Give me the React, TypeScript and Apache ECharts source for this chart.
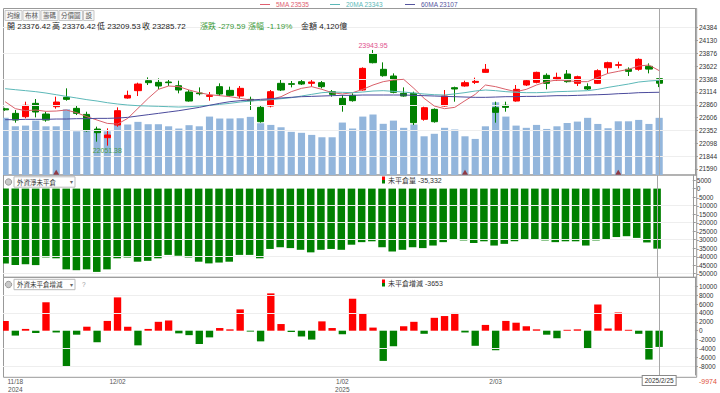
import React, { useEffect, useRef } from "react";
import * as echarts from "echarts";

const FONT = "'Liberation Sans', 'Noto Sans CJK TC', sans-serif";

const dates = [
  "2024/11/15","2024/11/18","2024/11/19","2024/11/20","2024/11/21","2024/11/22","2024/11/25","2024/11/26","2024/11/27","2024/11/28","2024/11/29",
  "2024/12/02","2024/12/03","2024/12/04","2024/12/05","2024/12/06","2024/12/09","2024/12/10","2024/12/11","2024/12/12","2024/12/13","2024/12/16","2024/12/17","2024/12/18","2024/12/19","2024/12/20","2024/12/23","2024/12/24","2024/12/25","2024/12/26","2024/12/27","2024/12/30","2024/12/31",
  "2025/01/02","2025/01/03","2025/01/06","2025/01/07","2025/01/08","2025/01/09","2025/01/10","2025/01/13","2025/01/14","2025/01/15","2025/01/16","2025/01/17","2025/01/20","2025/01/21","2025/01/22",
  "2025/02/03","2025/02/04","2025/02/05","2025/02/06","2025/02/07","2025/02/10","2025/02/11","2025/02/12","2025/02/13","2025/02/14","2025/02/17","2025/02/18","2025/02/19","2025/02/20","2025/02/21","2025/02/24","2025/02/25",
];
const padCategories = ["pad1", "pad2", "pad3"];

const opens = [22780,22690,22624,22888,22677,22822,23007,22789,22670,22380,22209,22459,22993,23139,23336,23303,23310,23237,23112,23092,23026,23218,23145,23033,22967,22809,22835,23284,23277,23317,23284,23297,23119,22987,23046,23152,23864,23561,23429,23086,23086,22572,22769,22835,23198,23231,23303,23501,22802,22849,22934,23251,23303,23442,23350,23468,23284,23218,23284,23593,23640,23561,23561,23620,23376.42];
const closes = [22760,22558,22849,22717,22558,22914,22967,22690,22347,22308,22262,22743,23046,23270,23297,23231,23297,23152,22934,23079,23046,23073,23046,23185,22941,22525,23119,23152,23264,23270,23310,23218,23066,22855,22941,23580,23692,23435,23106,23033,22506,22802,22525,23033,23172,23297,23323,23561,22710,22809,23165,23336,23501,23284,23402,23317,23415,23172,23534,23692,23653,23521,23758,23565.31,23285.72];
const lows = [22740,22506,22591,22611,22525,22783,22941,22657,22328,22130,22051.38,22426,22980,23033,23251,23165,23231,23086,22921,23046,22941,23033,23020,22987,22756,22506,22809,23132,23204,23251,23218,23185,23020,22723,22921,23139,23679,23415,23086,23020,22459,22545,22506,22822,22921,23218,23270,23495,22506,22723,22921,23231,23284,23165,23336,23297,23231,23152,23270,23481,23580,23429,23534,23481,23209.53];
const highs = [22800,22756,22921,22974,22723,23020,23185,22835,22723,22427,22394,22809,23139,23297,23402,23382,23350,23336,23152,23204,23112,23284,23218,23231,23020,22855,23152,23350,23330,23350,23350,23330,23152,23053,23086,23600,23943.95,23699,23481,23204,23119,22822,22789,23152,23218,23336,23396,23666,22921,22921,23251,23363,23514,23481,23495,23547,23435,23284,23561,23712,23712,23600,23778,23679,23376.42];

const ma5 = [22921,22783,22743,22756,22730,22736,22756,22703,22624,22558,22492,22479,22591,22789,22987,23165,23231,23218,23152,23099,23059,23040,23020,22987,22954,22941,22967,23020,23119,23185,23218,23165,23099,23073,23099,23165,23251,23317,23350,23363,23185,22987,22835,22783,22809,22941,23066,23251,23218,23165,23119,23165,23251,23317,23350,23336,23317,23317,23402,23481,23521,23561,23626,23646,23535];
const ma20 = [23178,23158,23139,23119,23092,23059,23026,22994,22961,22934,22901,22875,22855,22842,22835,22829,22822,22815,22822,22835,22849,22868,22888,22914,22934,22947,22961,22980,23000,23033,23066,23099,23112,23106,23099,23112,23132,23139,23125,23112,23092,23073,23059,23053,23075,23100,23132,23152,23139,23119,23106,23099,23099,23106,23119,23125,23132,23139,23165,23204,23237,23270,23310,23330,23343];
const ma60 = [22565,22565,22572,22572,22572,22578,22578,22585,22585,22591,22591,22598,22611,22638,22664,22690,22717,22743,22776,22809,22849,22888,22921,22941,22954,22967,22980,22994,23007,23020,23026,23033,23040,23046,23046,23053,23053,23053,23053,23053,23046,23040,23033,23026,23020,23013,23007,23007,23013,23020,23020,23026,23026,23033,23040,23040,23046,23053,23059,23066,23079,23086,23099,23103,23107];

const volumes = [4120,3510,3560,3920,3510,3510,4740,3150,4280,3150,3150,3970,3640,3830,3660,3660,3510,3350,3590,3510,4210,4070,4070,4090,4190,3730,3610,3440,3110,3040,2890,2720,2720,3780,3350,4210,4360,3690,3920,3400,3640,2790,2970,3400,3280,2790,2600,3510,5240,4210,3560,3400,3610,3320,3510,3750,3850,4120,3680,3370,3870,3870,3970,3680,4120];

const markerDates = ["2024/11/22", "2025/01/20", "2025/02/19"];

const openInterest = [-44000,-45000,-44500,-45000,-40500,-41000,-47500,-48000,-47500,-49000,-47500,-41000,-40500,-43000,-42500,-41000,-39000,-39500,-40500,-43000,-44000,-43500,-43000,-39000,-39000,-41000,-35500,-34500,-35000,-36000,-37500,-36000,-35500,-36000,-33000,-31500,-31000,-34500,-37000,-36000,-34500,-35000,-33500,-31500,-30000,-30500,-32000,-31000,-33500,-32500,-31000,-30000,-30000,-30500,-31500,-31000,-31000,-33500,-30500,-30000,-28500,-28000,-29000,-31679,-35332];
const oiChange = [2200,-1100,400,-500,6400,-400,-8000,-900,900,-2600,2200,7500,900,-3300,400,2000,2300,-600,-1000,-3000,-1500,600,300,4800,-200,-2400,8400,1500,-300,-1300,-2000,2100,600,-800,7200,3800,700,-6800,-3500,1000,2000,-700,2900,3300,4000,-400,-3400,1300,-4400,2200,1800,1000,300,-900,-1700,200,300,-4000,5900,500,4100,200,-700,-6500,-3653];

const priceTicks = [21590,21844,22098,22352,22606,22860,23114,23368,23622,23876,24130,24384];
const priceGrid = [21844,22352,22860,23368,23876,24384];
const oiTicks = [5000,0,-5000,-10000,-15000,-20000,-25000,-30000,-35000,-40000,-45000,-50000];
const oiGrid = [-10000,-20000,-30000,-40000,-50000];
const chgTicks = [10000,8000,6000,4000,2000,0,-2000,-4000,-6000,-8000];
const chgGrid = [8000,4000,-4000,-8000];

const tickDates = ["2024/11/18", "2024/12/02", "2025/01/02", "2025/02/03"];
const tickTexts = ["11/18\n2024", "12/02", "1/02\n2025", "2/03"];

const tabs = ["均線", "布林", "籌碼", "分價圖", "設"];
const ohlcLabels = ["開 23376.42", "高 23376.42", "低 23209.53", "收 23285.72"];
const changeText = "漲跌 -279.59";
const pctLabel = "漲幅";
const pctText = "-1.19%";
const amountText = "金額 4,120億";
const maLegend = ["5MA 23535", "20MA 23343", "60MA 23107"];
const maColors = ["#e06070", "#5cb8b8", "#55559e"];
const crossDateLabel = "2025/2/25";
const crossValueLabel = "-9974";
const panel2Name = "外資淨未平倉";
const panel3Name = "外資未平倉增減";
const panel2Legend = "未平倉量 -35,332";
const panel3Legend = "未平倉增減 -3653";

const RED = "#ff0000";
const GREEN = "#008000";

function txt(x: number, y: number, text: string, size: number, fill: string, align = "left", z = 10) {
  return {
    type: "text", x, y, z, silent: true,
    style: { text, fill, font: `${size}px ${FONT}`, textAlign: align, textVerticalAlign: "middle" },
  };
}

function buildOption() {
  const categories = [...dates, ...padCategories];
  const lastDate = dates[dates.length - 1];
  const candleData = dates.map((_, i) => [opens[i], closes[i], lows[i], highs[i]]);

  const grids = [
    { left: 0, right: 23.3, top: 8.5, height: 166.5 },
    { left: 0, right: 23.3, top: 175, height: 102.3 },
    { left: 0, right: 23.3, top: 277.3, height: 100 },
  ];

  const xAxes = [0, 1, 2].map((g) => ({
    type: "category",
    gridIndex: g,
    data: categories,
    boundaryGap: true,
    axisLine: { show: false },
    axisTick: { show: false },
    splitLine: { show: false },
    axisPointer: { show: false },
    axisLabel:
      g === 2
        ? {
            show: true,
            interval: (_i: number, v: string) => tickDates.includes(v),
            formatter: (v: string) => {
              const k = tickDates.indexOf(v);
              return k >= 0 ? tickTexts[k] : "";
            },
            fontSize: 6.5,
            lineHeight: 8,
            color: "#555",
            margin: 2,
            fontFamily: FONT,
          }
        : { show: false },
  }));

  const yRight = (grid: number, min: number, max: number, ticks: number[]) => ({
    type: "value",
    gridIndex: grid,
    position: "right",
    min,
    max,
    axisLine: { show: true, lineStyle: { color: "#999" } },
    axisTick: { show: true, length: 3, customValues: ticks, lineStyle: { color: "#999" } },
    axisLabel: {
      show: true, customValues: ticks, fontSize: 6.5, color: "#333", margin: 4, fontFamily: FONT,
      formatter: (v: number) => String(Math.round(v)),
    },
    splitLine: { show: false },
  });

  const yAxes = [
    yRight(0, 21471, 24764, priceTicks),
    { type: "value", gridIndex: 0, min: 0, max: 12000, show: false, splitLine: { show: false } },
    yRight(1, -52176, 8000, oiTicks),
    yRight(2, -9974, 12022, chgTicks),
  ];

  const crossLine = { xAxis: lastDate, lineStyle: { color: "#a8a8a8", width: 1, type: "solid" } };
  const gridLine = (v: number) => ({ yAxis: v, lineStyle: { color: "#eeeeee", width: 1, type: "solid" } });

  const series: any[] = [
    {
      type: "line", xAxisIndex: 0, yAxisIndex: 0, data: [], z: 0, silent: true,
      markLine: { symbol: ["none", "none"], silent: true, label: { show: false }, data: priceGrid.map(gridLine) },
    },
    {
      type: "bar", name: "vol", xAxisIndex: 0, yAxisIndex: 1, data: volumes, barWidth: "70%",
      itemStyle: { color: "#93b6dc" }, z: 1, silent: true,
    },
    {
      type: "scatter", xAxisIndex: 0, yAxisIndex: 1, data: markerDates.map((d) => [d, 200]),
      symbol: "triangle", symbolSize: [6, 5], itemStyle: { color: "#8e1c1c" }, z: 2, silent: true,
    },
    {
      type: "candlestick", xAxisIndex: 0, yAxisIndex: 0, data: candleData, barWidth: "65%", z: 4,
      itemStyle: { color: RED, color0: GREEN, borderColor: RED, borderColor0: GREEN, borderWidth: 1 },
      markPoint: {
        symbol: "circle", symbolSize: 0, silent: true,
        label: { show: true, fontSize: 7, fontFamily: FONT, formatter: (p: any) => Number(p.value).toFixed(2) },
        data: [
          { type: "max", valueDim: "highest", label: { position: "top", distance: 1, color: "#e0508c" } },
          { type: "min", valueDim: "lowest", label: { position: "bottom", distance: 1, color: "#4a9a4a" } },
        ],
      },
      markLine: { symbol: ["none", "none"], silent: true, label: { show: false }, data: [crossLine] },
    },
    ...[ma5, ma20, ma60].map((d, k) => ({
      type: "line", xAxisIndex: 0, yAxisIndex: 0, data: d, showSymbol: false, symbol: "none", z: 5, silent: true,
      lineStyle: { color: ["#d9606a", "#5cb8b8", "#4b4b9c"][k], width: 1 },
    })),
    {
      type: "bar", xAxisIndex: 1, yAxisIndex: 2, data: openInterest, barWidth: "74%", z: 3, silent: true,
      itemStyle: { color: GREEN },
      markLine: {
        symbol: ["none", "none"], silent: true, label: { show: false },
        data: [...oiGrid.map(gridLine), crossLine],
      },
    },
    {
      type: "bar", xAxisIndex: 2, yAxisIndex: 3, data: oiChange, barWidth: "72%", z: 3, silent: true,
      itemStyle: { color: (p: any) => (p.value >= 0 ? RED : GREEN) },
      markLine: {
        symbol: ["none", "none"], silent: true,
        label: { show: false },
        data: [
          ...chgGrid.map(gridLine),
          {
            ...crossLine,
            label: {
              show: true, position: "start", distance: 1, formatter: crossDateLabel,
              fontSize: 6.5, fontFamily: FONT, color: "#333", backgroundColor: "#fff",
              borderColor: "#888", borderWidth: 1, padding: [1.5, 2, 1, 2],
            },
          },
        ],
      },
    },
  ];

  // static chrome
  const graphic: any[] = [];
  [[8.5, 166.5], [175, 102.3], [277.3, 100]].forEach(([y, h]) => {
    graphic.push({ type: "rect", shape: { x: 3.5, y, width: 693.2, height: h }, style: { fill: "none", stroke: "#999", lineWidth: 1 }, z: 1, silent: true });
  });
  graphic.push({ type: "rect", shape: { x: 0, y: 8, width: 3, height: 371 }, style: { fill: "#fff" }, z: 100, silent: true });

  const legX = [260, 330, 405];
  maLegend.forEach((t, k) => {
    graphic.push({ type: "line", shape: { x1: legX[k], y1: 4.5, x2: legX[k] + 10, y2: 4.5 }, style: { stroke: maColors[k], lineWidth: 1 }, z: 10, silent: true });
    graphic.push(txt(legX[k] + 16, 4.5, t, 6.5, maColors[k]));
  });

  let tx = 5;
  tabs.forEach((t) => {
    const w = t.length * 6.5 + 4;
    graphic.push({ type: "rect", shape: { x: tx, y: 10.5, width: w, height: 10 }, style: { fill: "#f6f6f6", stroke: "#c8c8c8", lineWidth: 1 }, z: 10, silent: true });
    graphic.push(txt(tx + w / 2, 15.7, t, 6.5, "#555", "center", 11));
    tx += w + 1;
  });

  const ohlcX = [7, 52, 97, 142];
  ohlcLabels.forEach((t, k) => graphic.push(txt(ohlcX[k], 26.5, t, 8, "#222")));
  graphic.push(txt(200, 26.5, changeText, 8, "#3a9a3a"));
  graphic.push(txt(248, 26.5, pctLabel, 8, "#3a9a3a"));
  graphic.push(txt(267, 26.5, pctText, 8, "#3a9a3a"));
  graphic.push(txt(301, 26.5, amountText, 8, "#222"));

  const panelHead = (yc: number, name: string, extra?: string) => {
    graphic.push({ type: "circle", shape: { cx: 8.5, cy: yc, r: 3.2 }, style: { fill: "#c9c9c9", stroke: "#888", lineWidth: 0.8 }, z: 10, silent: true });
    graphic.push({ type: "rect", shape: { x: 14, y: yc - 5.2, width: 61, height: 10.4 }, style: { fill: "#fff", stroke: "#bbb", lineWidth: 1 }, z: 10, silent: true });
    graphic.push(txt(17, yc + 0.2, name, 6.5, "#333", "left", 11));
    graphic.push(txt(71, yc + 0.2, "▾", 6, "#666", "center", 11));
    if (extra) graphic.push(txt(82, yc, extra, 6.5, "#999", "left", 11));
  };
  panelHead(182, panel2Name);
  panelHead(284.5, panel3Name, "?");

  const legendIcon = (y: number) => {
    graphic.push({ type: "rect", shape: { x: 382, y: y - 3.5, width: 3, height: 3.5 }, style: { fill: RED }, z: 10, silent: true });
    graphic.push({ type: "rect", shape: { x: 382, y, width: 3, height: 3.5 }, style: { fill: GREEN }, z: 10, silent: true });
  };
  legendIcon(180);
  graphic.push(txt(388, 180, panel2Legend, 7, "#333"));
  legendIcon(283);
  graphic.push(txt(388, 283, panel3Legend, 7, "#333"));

  graphic.push(txt(699, 381, crossValueLabel, 7, "#e0503a"));

  return {
    animation: false,
    backgroundColor: "#fff",
    textStyle: { fontFamily: FONT },
    grid: grids,
    xAxis: xAxes,
    yAxis: yAxes,
    series,
    graphic,
  };
}

export default function App() {
  const ref = useRef<HTMLDivElement>(null);
  useEffect(() => {
    if (!ref.current) return;
    const chart = echarts.init(ref.current, null, { renderer: "svg" });
    chart.setOption(buildOption() as any);
    return () => chart.dispose();
  }, []);
  return (
    <div
      ref={ref}
      style={{ position: "fixed", left: 0, top: 0, width: 720, height: 393, background: "#fff" }}
    />
  );
}
